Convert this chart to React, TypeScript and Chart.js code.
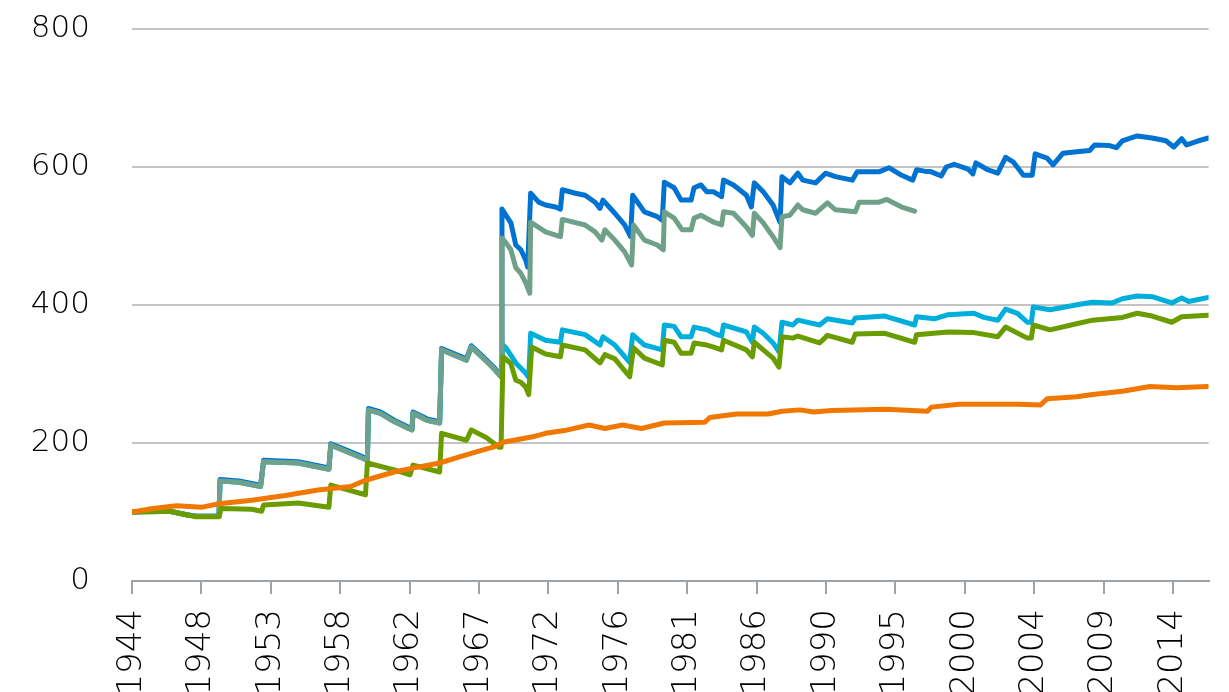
import React, { useEffect, useRef } from 'react';
import { Chart, registerables } from 'chart.js';

Chart.register(...registerables);

// X axis tick labels (one every 56 months from Jan 1944)
const tickLabels = ['1944', '1948', '1953', '1958', '1962', '1967', '1972', '1976', '1981', '1986', '1990', '1995', '2000', '2004', '2009', '2014'];
const TICK_START = 1944;
const TICK_STEP_MONTHS = 56;
const X_MIN = 1944;
const X_MAX = 2016.4;
const Y_MIN = 0;
const Y_MAX = 800;
const Y_STEP = 200;

// Series values as [year, value]
const seriesBlue: [number, number][] = [
  [1944.0, 100], [1945.2, 101], [1946.53, 101], [1947.66, 96], [1948.32, 94], [1949.85, 94],
  [1949.92, 147], [1951.19, 145], [1952.65, 139], [1952.85, 175], [1955.18, 173], [1957.24, 164],
  [1957.37, 199], [1958.5, 189], [1959.83, 177], [1959.9, 250], [1960.7, 245], [1961.63, 233],
  [1962.5, 224], [1962.83, 221], [1962.9, 245], [1963.83, 235], [1964.69, 231], [1964.82, 337],
  [1966.49, 322], [1966.82, 341], [1967.62, 325], [1968.28, 311], [1968.82, 298],
  [1968.88, 539], [1969.15, 530], [1969.48, 519], [1969.81, 487], [1970.15, 480], [1970.48, 465],
  [1970.61, 455], [1970.81, 562], [1971.35, 549], [1971.81, 545], [1972.48, 542], [1972.81, 539],
  [1972.94, 567], [1973.81, 562], [1974.47, 559], [1975.14, 549], [1975.47, 540], [1975.67, 552],
  [1976.47, 533], [1977.13, 516], [1977.53, 499], [1977.67, 559], [1978.46, 535], [1979.33, 528],
  [1979.66, 523], [1979.8, 578], [1980.46, 570], [1980.93, 552], [1981.6, 552], [1981.8, 570],
  [1982.26, 574], [1982.66, 564], [1983.12, 564], [1983.65, 557], [1983.78, 581], [1984.45, 574],
  [1985.32, 559], [1985.65, 542], [1985.85, 577], [1986.45, 564], [1987.11, 545], [1987.58, 520],
  [1987.71, 586], [1988.24, 577], [1988.78, 591], [1989.11, 581], [1989.97, 577], [1990.64, 591],
  [1991.31, 586], [1992.44, 581], [1992.77, 593], [1994.23, 593], [1994.9, 599], [1995.76, 588],
  [1996.5, 581], [1996.76, 596], [1997.29, 594], [1997.76, 593], [1998.42, 587], [1998.76, 600],
  [1999.29, 604], [2000.22, 597], [2000.55, 590], [2000.75, 606], [2001.55, 596], [2002.22, 591],
  [2002.75, 614], [2003.28, 607], [2003.95, 588], [2004.54, 588], [2004.74, 619], [2005.54, 613],
  [2005.94, 603], [2006.61, 620], [2007.54, 622], [2008.4, 624], [2008.74, 632], [2009.73, 631],
  [2010.2, 628], [2010.6, 638], [2011.6, 645], [2012.6, 642], [2013.53, 638], [2014.06, 629],
  [2014.59, 641], [2014.92, 632], [2015.72, 638], [2016.39, 642],
];

const seriesGrey: [number, number][] = [
  [1944.0, 100], [1945.2, 101], [1946.53, 101], [1947.66, 96], [1948.32, 94], [1949.85, 94],
  [1949.92, 145], [1951.19, 143], [1952.65, 137], [1952.85, 173], [1955.18, 171], [1957.24, 162],
  [1957.37, 197], [1958.5, 187], [1959.83, 175], [1959.9, 248], [1960.7, 243], [1961.63, 231],
  [1962.5, 222], [1962.83, 219], [1962.9, 243], [1963.83, 233], [1964.69, 229], [1964.82, 335],
  [1966.49, 320], [1966.82, 339], [1967.62, 323], [1968.28, 309], [1968.82, 296],
  [1968.88, 497], [1969.15, 490], [1969.48, 480], [1969.81, 454], [1970.15, 446], [1970.48, 432],
  [1970.75, 417], [1970.81, 520], [1971.81, 506], [1972.81, 499], [1972.94, 524], [1974.47, 516],
  [1975.14, 506], [1975.6, 494], [1975.8, 509], [1976.47, 494], [1977.13, 477], [1977.6, 458],
  [1977.73, 516], [1978.46, 494], [1979.33, 487], [1979.73, 480], [1979.8, 535], [1980.46, 526],
  [1981.0, 509], [1981.6, 509], [1981.8, 526], [1982.26, 530], [1983.12, 520], [1983.65, 516],
  [1983.78, 535], [1984.45, 533], [1985.32, 513], [1985.72, 501], [1985.85, 533], [1986.45, 519],
  [1987.11, 499], [1987.58, 483], [1987.71, 528], [1988.24, 530], [1988.78, 545], [1989.11, 538],
  [1989.97, 533], [1990.77, 548], [1991.31, 538], [1992.64, 535], [1992.9, 549], [1994.23, 549],
  [1994.76, 553], [1995.76, 542], [1996.63, 536],
];

const seriesCyan: [number, number][] = [
  [1944.0, 100], [1945.2, 101], [1946.53, 101], [1947.66, 96], [1948.32, 94], [1949.85, 94],
  [1949.92, 145], [1951.19, 143], [1952.65, 137], [1952.85, 173], [1955.18, 171], [1957.24, 162],
  [1957.37, 197], [1958.5, 187], [1959.83, 175], [1959.9, 248], [1960.7, 243], [1961.63, 231],
  [1962.5, 222], [1962.83, 219], [1962.9, 243], [1963.83, 233], [1964.69, 229], [1964.82, 335],
  [1966.49, 320], [1966.82, 339], [1967.62, 323], [1968.28, 309], [1968.82, 296],
  [1968.95, 342], [1969.15, 338], [1969.81, 316], [1970.48, 301], [1970.68, 295], [1970.81, 359],
  [1971.81, 349], [1972.81, 346], [1972.94, 364], [1974.47, 357], [1975.47, 342], [1975.67, 354],
  [1976.47, 342], [1977.47, 317], [1977.67, 357], [1978.46, 342], [1979.66, 335], [1979.8, 371],
  [1980.46, 369], [1980.93, 354], [1981.6, 354], [1981.8, 368], [1982.66, 364], [1983.12, 359],
  [1983.65, 355], [1983.78, 371], [1985.32, 361], [1985.72, 346], [1985.85, 368], [1986.45, 359],
  [1987.11, 345], [1987.51, 332], [1987.71, 375], [1988.44, 371], [1988.78, 378], [1990.24, 371],
  [1990.77, 380], [1992.44, 374], [1992.64, 381], [1994.63, 384], [1996.63, 371], [1996.76, 383],
  [1997.96, 380], [1998.89, 386], [2000.62, 388], [2001.29, 382], [2002.22, 378], [2002.75, 394],
  [2003.55, 388], [2004.21, 375], [2004.48, 375], [2004.61, 397], [2005.74, 393], [2007.74, 401],
  [2008.6, 404], [2009.93, 403], [2010.6, 409], [2011.6, 413], [2012.6, 412], [2013.93, 403],
  [2014.59, 410], [2015.06, 405], [2016.39, 411],
];

const seriesOlive: [number, number][] = [
  [1944.0, 100], [1945.0, 100], [1946.53, 101], [1947.66, 96], [1948.32, 93], [1949.85, 93],
  [1949.99, 105], [1952.05, 104], [1952.72, 101], [1952.85, 110], [1955.18, 113], [1957.24, 107],
  [1957.37, 139], [1959.7, 125], [1959.83, 171], [1961.63, 161], [1962.7, 154], [1962.9, 168],
  [1964.69, 158], [1964.82, 214], [1966.49, 204], [1966.82, 219], [1967.82, 208], [1968.68, 194],
  [1968.82, 194], [1968.95, 325], [1969.48, 315], [1969.81, 291], [1970.15, 288], [1970.48, 281],
  [1970.68, 270], [1970.88, 339], [1971.81, 329], [1972.81, 325], [1972.94, 342], [1974.47, 335],
  [1975.47, 316], [1975.8, 328], [1976.47, 322], [1977.47, 296], [1977.73, 338], [1978.46, 323],
  [1979.66, 313], [1979.8, 349], [1980.46, 346], [1980.93, 330], [1981.6, 330], [1981.8, 345],
  [1982.66, 342], [1983.12, 339], [1983.65, 335], [1983.78, 349], [1985.32, 335], [1985.72, 325],
  [1985.85, 346], [1986.45, 335], [1987.11, 323], [1987.51, 310], [1987.71, 354], [1988.44, 352],
  [1988.78, 355], [1990.24, 345], [1990.77, 356], [1992.44, 346], [1992.64, 358], [1994.63, 359],
  [1996.63, 346], [1996.76, 357], [1998.89, 361], [2000.62, 360], [2002.22, 354], [2002.75, 368],
  [2004.21, 352], [2004.48, 352], [2004.61, 371], [2005.74, 364], [2007.74, 374], [2008.6, 378],
  [2010.6, 382], [2011.6, 388], [2012.6, 384], [2013.93, 375], [2014.59, 383], [2016.39, 385],
];

const seriesOrange: [number, number][] = [
  [1944.0, 100], [1945.4, 105], [1946.99, 109], [1948.72, 107], [1949.85, 112], [1952.05, 117],
  [1954.31, 124], [1956.51, 132], [1958.7, 137], [1959.7, 146], [1961.63, 158], [1962.96, 164],
  [1964.69, 171], [1966.02, 180], [1967.15, 187], [1968.28, 194], [1968.95, 201], [1969.68, 204],
  [1970.95, 209], [1971.81, 214], [1973.08, 218], [1974.74, 226], [1975.8, 221], [1977.0, 226],
  [1978.26, 221], [1979.8, 229], [1982.52, 230], [1982.86, 237], [1984.65, 242], [1986.78, 242],
  [1987.71, 246], [1988.91, 248], [1989.84, 245], [1991.04, 247], [1994.7, 249], [1997.49, 246],
  [1997.76, 252], [1999.62, 256], [2003.61, 256], [2005.08, 255], [2005.54, 264], [2007.54, 267],
  [2008.47, 270], [2010.6, 275], [2012.46, 282], [2014.26, 280], [2016.32, 282],
];

const toPoints = (arr: [number, number][]) => arr.map(([x, y]) => ({ x, y }));

const FONT = '"DejaVu Sans", "Liberation Sans", Arial, sans-serif';

export default function App() {
  const ref = useRef<HTMLCanvasElement | null>(null);

  useEffect(() => {
    if (!ref.current) return;
    const line = (data: [number, number][], color: string) => ({
      data: toPoints(data),
      borderColor: color,
      backgroundColor: color,
      borderWidth: 5,
      pointRadius: 0,
      tension: 0,
      fill: false,
      borderJoinStyle: 'round' as const,
      borderCapStyle: 'round' as const,
    });
    const chart = new Chart(ref.current, {
      type: 'line',
      data: {
        datasets: [
          line(seriesOrange, '#f07800'),
          line(seriesOlive, '#6a9c00'),
          line(seriesGrey, '#6fa08a'),
          line(seriesCyan, '#00aedc'),
          line(seriesBlue, '#0072d2'),
        ],
      },
      options: {
        responsive: false,
        animation: false,
        layout: { padding: { top: 29, right: 9, left: 0, bottom: 0 } },
        plugins: { legend: { display: false }, tooltip: { enabled: false } },
        scales: {
          x: {
            type: 'linear',
            min: X_MIN,
            max: X_MAX,
            afterBuildTicks: (scale: any) => {
              scale.ticks = tickLabels.map((_, i) => ({ value: TICK_START + (i * TICK_STEP_MONTHS) / 12 }));
            },
            afterFit: (scale: any) => {
              scale.height = 111;
            },
            ticks: {
              autoSkip: false,
              minRotation: 90,
              maxRotation: 90,
              padding: 15,
              color: '#000',
              font: { family: FONT, size: 34, weight: '200' as any },
              callback: (_v: any, i: number) => tickLabels[i],
            },
            grid: {
              drawOnChartArea: false,
              drawTicks: true,
              tickLength: 13,
              color: '#9ea3a8',
              lineWidth: 2,
            },
            border: { display: true, color: '#9ea3a8', width: 2 },
          },
          y: {
            min: Y_MIN,
            max: Y_MAX,
            afterFit: (scale: any) => {
              scale.width = 132;
            },
            ticks: {
              stepSize: Y_STEP,
              padding: 2,
              color: '#000',
              font: { family: FONT, size: 31, weight: '200' as any },
            },
            grid: {
              color: '#c4c4c4',
              lineWidth: 2,
              drawTicks: true,
              tickLength: 40,
              tickColor: 'rgba(0,0,0,0)',
            },
            border: { display: false },
          },
        },
      },
    });
    return () => chart.destroy();
  }, []);

  return (
    <div style={{ position: 'absolute', left: 0, top: 0, width: 1229, height: 692, background: '#fff', overflow: 'hidden' }}>
      <canvas ref={ref} width={1229} height={692} style={{ width: 1229, height: 692, display: 'block' }} />
    </div>
  );
}
